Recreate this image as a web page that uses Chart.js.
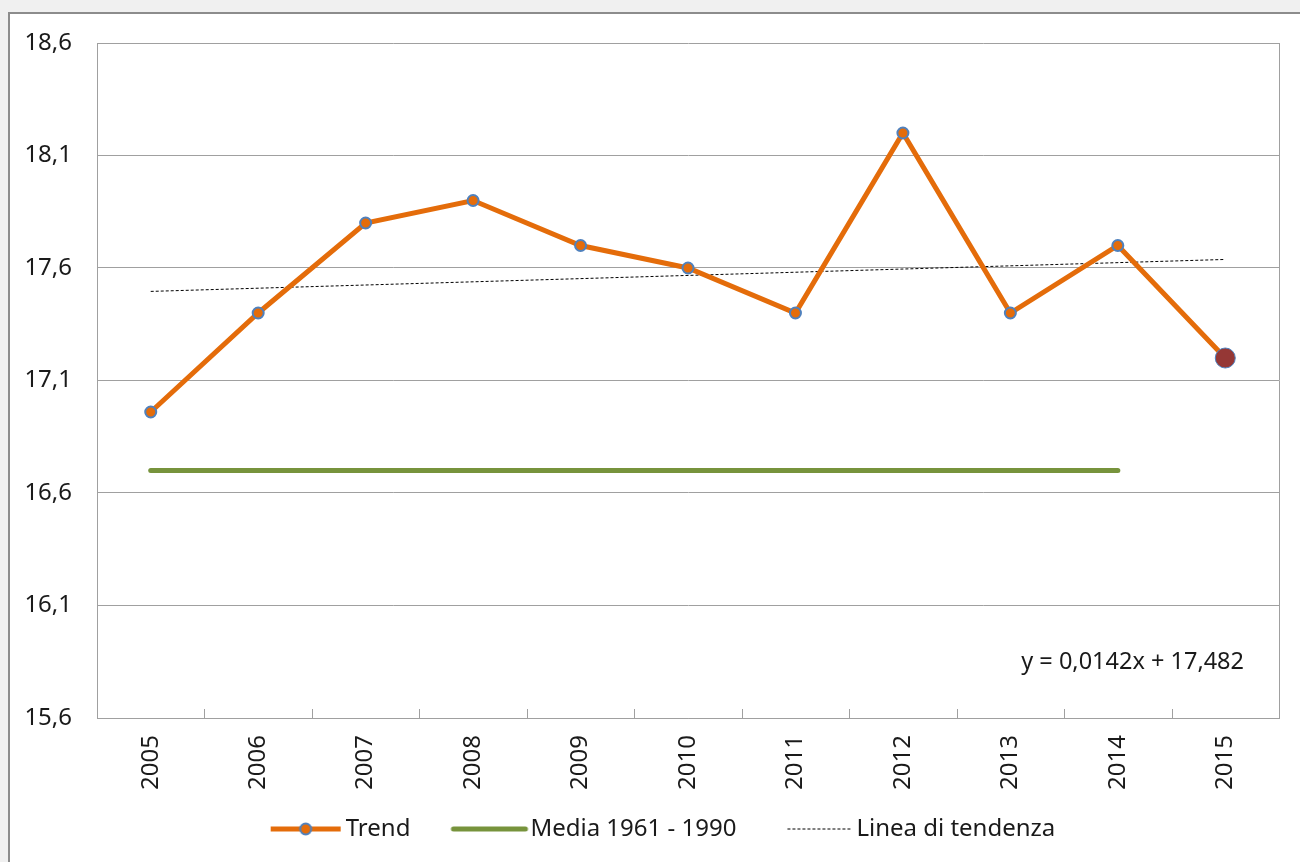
<!DOCTYPE html>
<html>
<head>
<meta charset="utf-8">
<script src="https://cdn.jsdelivr.net/npm/chart.js@4/dist/chart.umd.min.js"></script>
<style>
  html, body { margin: 0; padding: 0; background: #f0f0f0; overflow: hidden; }
  #frame { position: absolute; left: 8px; top: 12px; width: 1300px; height: 860px;
           border: 2px solid #8c8c8c; background: #fff; }
  #chart { position: absolute; left: 0; top: 0; }
</style>
</head>
<body>
<div id="frame"><canvas id="chart" width="1290" height="848"></canvas></div>
<script>
const years = ['2005', '2006', '2007', '2008', '2009', '2010', '2011', '2012', '2013', '2014', '2015'];
const trendValues = [16.96, 17.4, 17.8, 17.9, 17.7, 17.6, 17.4, 18.2, 17.4, 17.7, 17.2];
const mediaValues = [16.7, 16.7, 16.7, 16.7, 16.7, 16.7, 16.7, 16.7, 16.7, 16.7, null];
const tendenzaValues = [17.496, null, null, null, null, null, null, null, null, null, 17.638];
const yTickLabels = ['15,6', '16,1', '16,6', '17,1', '17,6', '18,1', '18,6'];
const equation = 'y = 0,0142x + 17,482';

const ORANGE = '#E46C0A';
const BLUE = '#4F81BD';
const GREEN = '#77933C';
const GRID = '#a0a0a0';
const TEXT = '#1a1a1a';

Chart.defaults.font.family = "'Noto Sans', sans-serif";
Chart.defaults.color = TEXT;

// legend symbols drawn on small canvases
const BOX_W = 100;
function makeSymbol(kind, len) {
    const c = document.createElement('canvas');
    c.width = BOX_W + 24;
    c.height = 24;
    const g = c.getContext('2d');
    const x2 = c.width - 5, x1 = x2 - len, y = 12;
    g.beginPath();
    g.moveTo(x1, y);
    g.lineTo(x2, y);
    if (kind === 'trend') {
        g.strokeStyle = ORANGE; g.lineWidth = 5; g.stroke();
        g.beginPath();
        g.arc((x1 + x2) / 2, y, 5.5, 0, Math.PI * 2);
        g.fillStyle = ORANGE; g.fill();
        g.strokeStyle = BLUE; g.lineWidth = 2; g.stroke();
    } else if (kind === 'media') {
        g.strokeStyle = GREEN; g.lineWidth = 5; g.lineCap = 'round'; g.stroke();
    } else {
        g.strokeStyle = '#000'; g.lineWidth = 1; g.setLineDash([3, 2]); g.stroke();
    }
    return c;
}
const symbols = [makeSymbol('trend', 70), makeSymbol('media', 72), makeSymbol('dash', 64)];

const extras = {
    id: 'extras',
    beforeDatasetsDraw(chart) {
        const { ctx, chartArea: a, scales: { x } } = chart;
        ctx.save();
        ctx.strokeStyle = GRID;
        ctx.lineWidth = 1;
        ctx.beginPath();
        ctx.moveTo(Math.round(a.right) + 0.5, a.top);
        ctx.lineTo(Math.round(a.right) + 0.5, a.bottom);
        for (let i = 1; i < years.length; i++) {
            const px = Math.round((x.getPixelForTick(i - 1) + x.getPixelForTick(i)) / 2) + 0.5;
            ctx.moveTo(px, a.bottom - 9);
            ctx.lineTo(px, a.bottom);
        }
        ctx.stroke();
        ctx.fillStyle = TEXT;
        ctx.font = "23.5px 'Noto Sans'";
        ctx.textAlign = 'right';
        ctx.textBaseline = 'middle';
        ctx.fillText(equation, a.right - 35, a.bottom - 56);
        ctx.restore();
    }
};

new Chart(document.getElementById('chart'), {
    type: 'line',
    data: {
        labels: years,
        datasets: [
            {
                label: 'Trend',
                data: trendValues,
                borderColor: ORANGE,
                borderWidth: 5,
                pointBackgroundColor: ctx => ctx.dataIndex === years.length - 1 ? '#953735' : ORANGE,
                pointBorderColor: BLUE,
                pointBorderWidth: ctx => ctx.dataIndex === years.length - 1 ? 1 : 2,
                pointRadius: ctx => ctx.dataIndex === years.length - 1 ? 10 : 5.5,
                tension: 0
            },
            {
                label: 'Media 1961 - 1990',
                data: mediaValues,
                borderColor: GREEN,
                borderWidth: 5,
                borderCapStyle: 'round',
                pointRadius: 0
            },
            {
                label: 'Linea di tendenza',
                data: tendenzaValues,
                borderColor: '#000',
                borderWidth: 1,
                borderDash: [3, 2],
                spanGaps: true,
                pointRadius: 0
            }
        ]
    },
    options: {
        responsive: false,
        animation: false,
        layout: { padding: { left: 0, top: 29, right: 21, bottom: 11 } },
        plugins: {
            tooltip: { enabled: false },
            legend: {
                position: 'bottom',
                labels: {
                    font: { size: 24 },
                    color: TEXT,
                    padding: 8,
                    usePointStyle: true,
                    pointStyleWidth: BOX_W,
                    generateLabels: chart => chart.data.datasets.map((ds, i) => ({
                        text: ds.label,
                        pointStyle: symbols[i],
                        datasetIndex: i,
                        hidden: false,
                        lineWidth: 0,
                        strokeStyle: 'rgba(0,0,0,0)',
                        fillStyle: 'rgba(0,0,0,0)',
                        fontColor: TEXT
                    }))
                }
            }
        },
        scales: {
            x: {
                offset: true,
                grid: { display: false, drawTicks: false },
                border: { display: true, color: GRID, width: 1 },
                ticks: { font: { size: 24 }, color: TEXT, maxRotation: 90, minRotation: 90, padding: 17 },
                afterFit: s => { s.height = 91; }
            },
            y: {
                min: 15.6,
                max: 18.6,
                ticks: {
                    stepSize: 0.5,
                    font: { size: 24 },
                    color: TEXT,
                    padding: 0,
                    callback: (v, i) => yTickLabels[i]
                },
                grid: { color: GRID, lineWidth: 1, drawTicks: true, tickLength: 25, tickColor: 'rgba(0,0,0,0)' },
                border: { display: true, color: GRID, width: 1 },
                afterFit: s => { s.width = 87; }
            }
        }
    },
    plugins: [extras]
});
</script>
</body>
</html>
